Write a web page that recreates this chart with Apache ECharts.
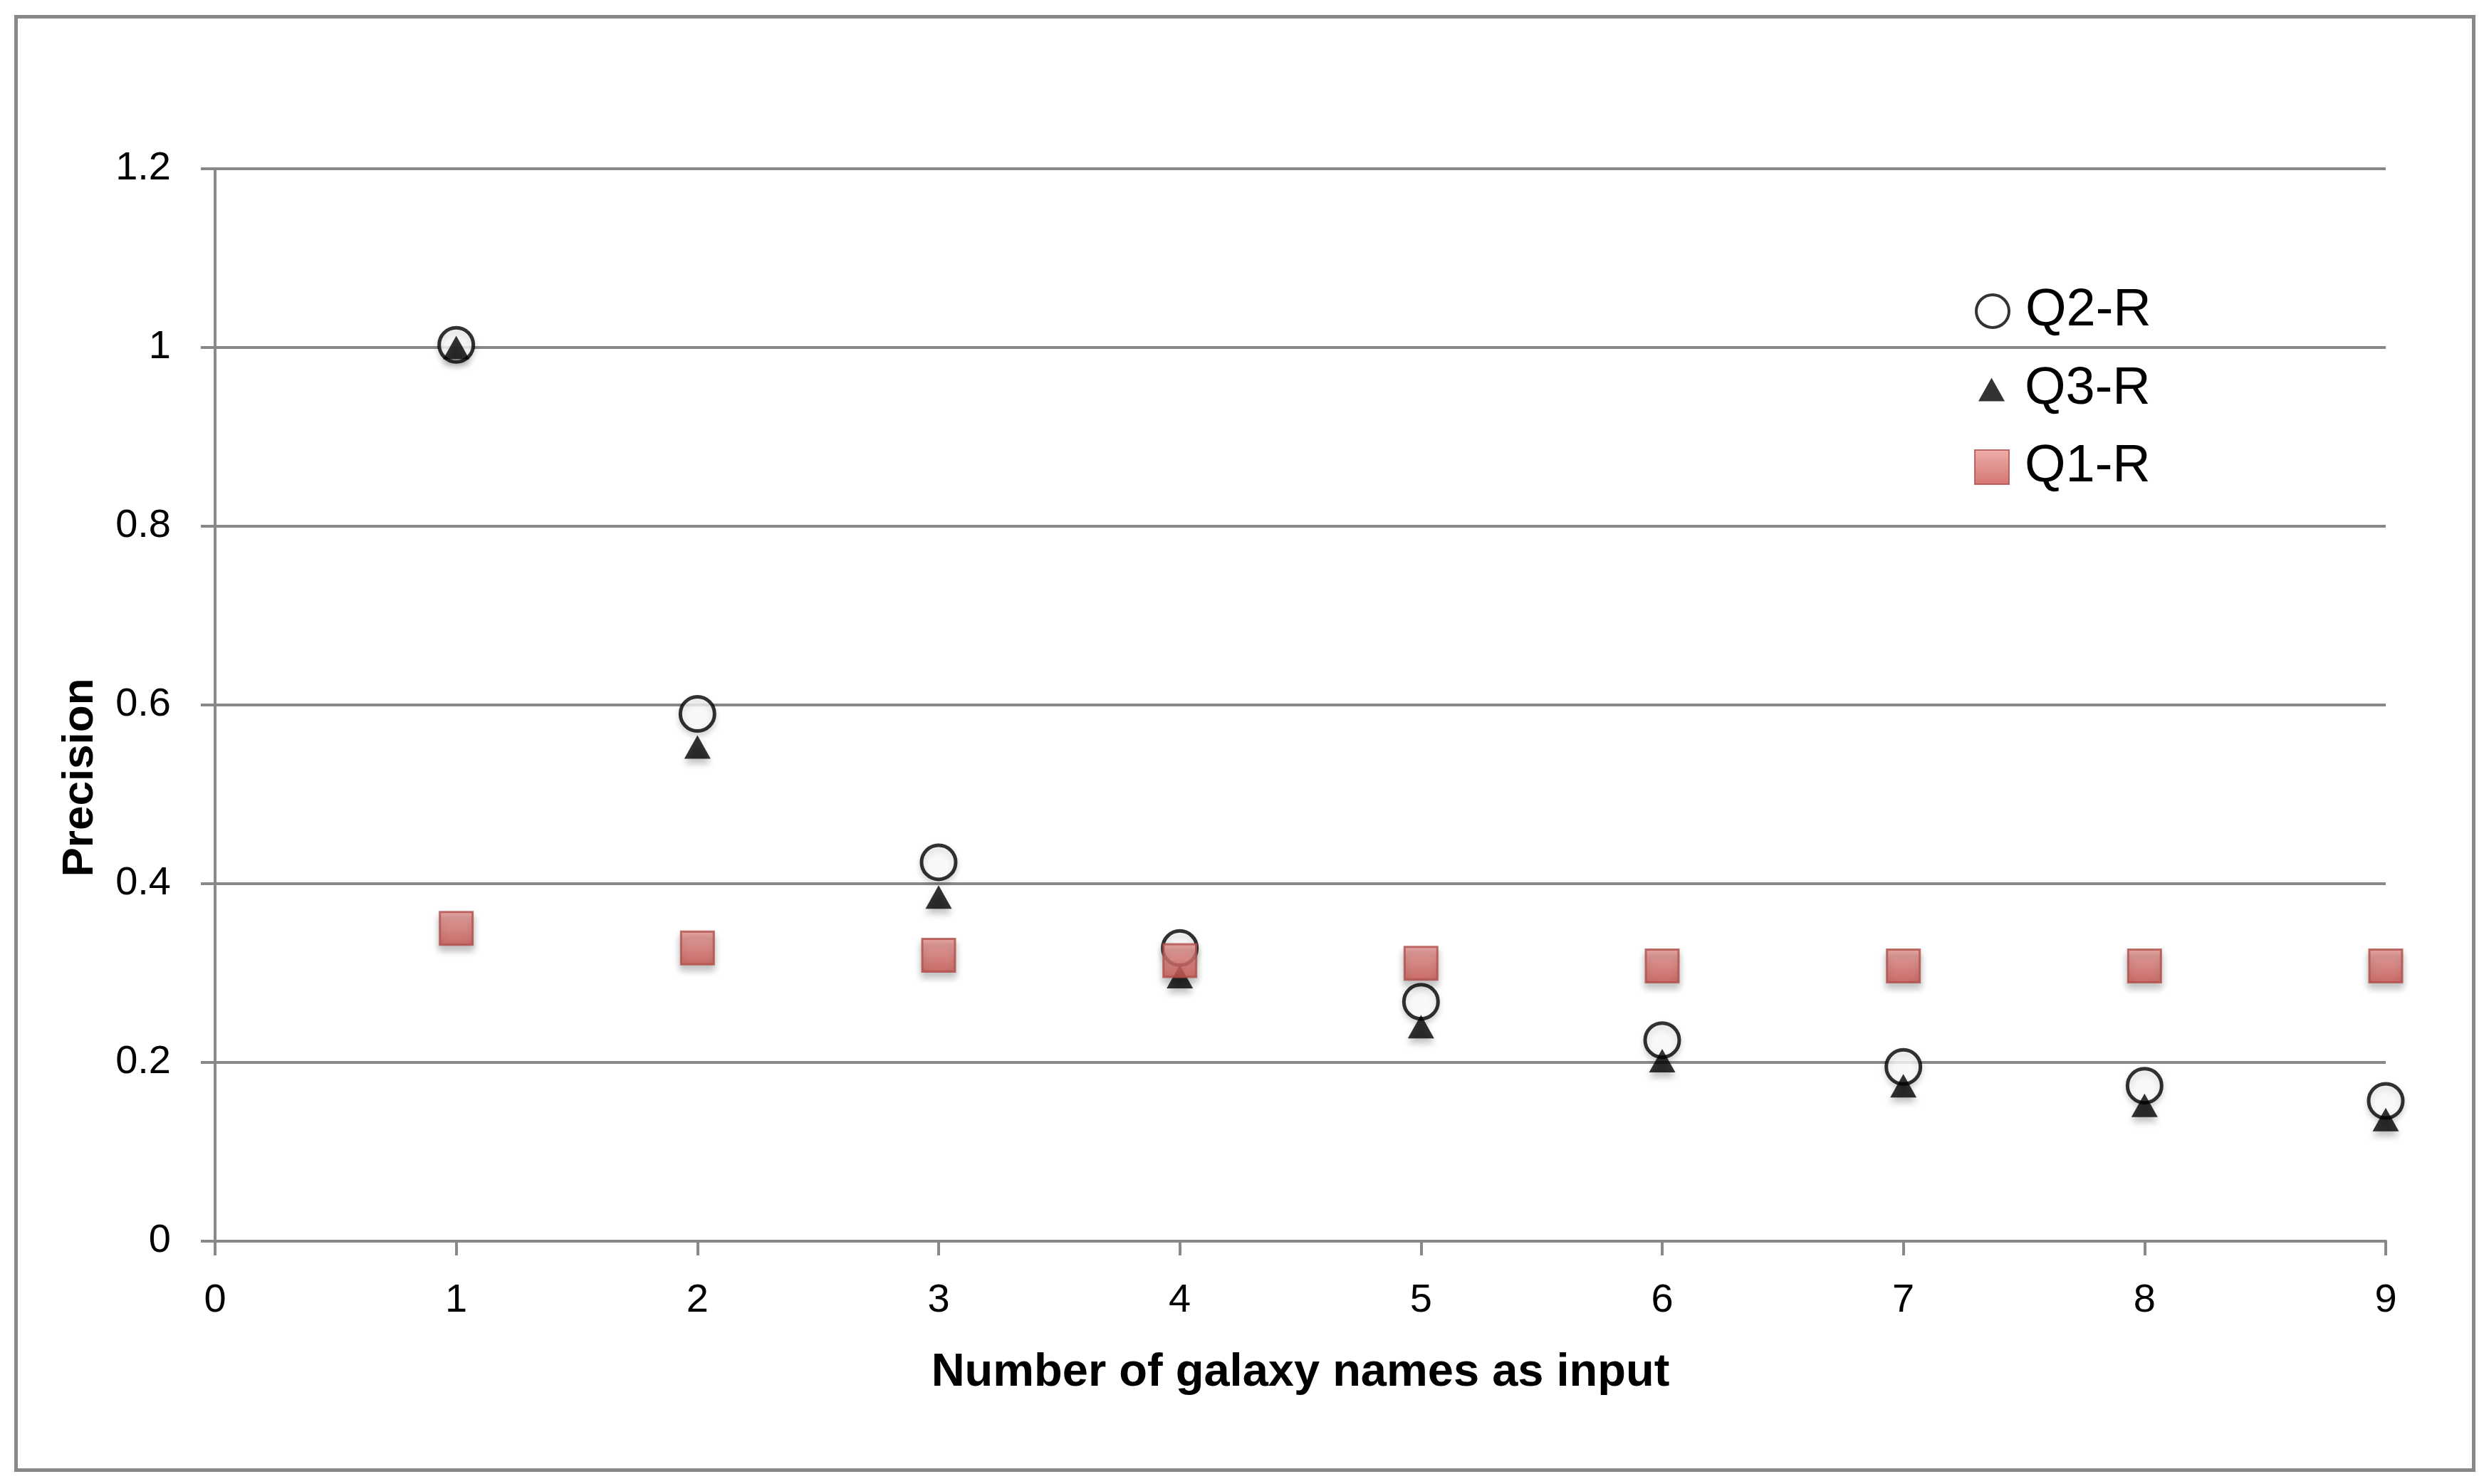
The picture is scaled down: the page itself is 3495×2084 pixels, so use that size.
<!DOCTYPE html>
<html>
<head>
<meta charset="utf-8">
<style>
html,body{margin:0;padding:0;background:#fff;}
#chart{width:3495px;height:2084px;}
</style>
<script src="https://cdn.jsdelivr.net/npm/echarts@6/dist/echarts.min.js"></script>
</head>
<body>
<div id="chart"></div>
<script>
const xValues = [1, 2, 3, 4, 5, 6, 7, 8, 9];
const q2R = [1.003, 0.590, 0.424, 0.328, 0.268, 0.225, 0.195, 0.174, 0.157];
const q3R = [1.000, 0.553, 0.385, 0.296, 0.240, 0.202, 0.174, 0.152, 0.136];
const q1R = [0.350, 0.328, 0.320, 0.314, 0.311, 0.308, 0.308, 0.308, 0.308];
const yTicks = ['0', '0.2', '0.4', '0.6', '0.8', '1', '1.2'];
const xTicks = ['0', '1', '2', '3', '4', '5', '6', '7', '8', '9'];

const pair = (vals) => xValues.map((x, i) => [x, vals[i]]);
const grey = '#898989';
const FONT = 'Liberation Sans';

const chart = echarts.init(document.getElementById('chart'), null, {renderer: 'canvas'});
const shadow = {shadowColor: 'rgba(0,0,0,0.3)', shadowBlur: 10, shadowOffsetY: 7};
const squareFill = new echarts.graphic.LinearGradient(0, 0, 0, 1, [
  {offset: 0, color: '#E99996'}, {offset: 1, color: '#C9544F'}
]);
const legendText = {fontFamily: FONT, fontSize: 74, color: '#000', lineHeight: 74};
const noShadow = {shadowBlur: 0, shadowOffsetY: 0, shadowColor: 'rgba(0,0,0,0)'};

chart.setOption({
  backgroundColor: '#fff',
  animation: false,
  graphic: [{
    type: 'rect', left: 20, top: 21,
    shape: {width: 3451, height: 2041},
    style: {fill: 'none', stroke: grey, lineWidth: 5}
  }],
  grid: {left: 302, right: 145, top: 237, bottom: 341},
  legend: [
    {data: ['Q2-R'], left: 2768, top: 395, itemWidth: 46, itemHeight: 46,
     textStyle: Object.assign({padding: [0, 0, 0, 18]}, legendText),
     itemStyle: Object.assign({borderWidth: 4}, noShadow)},
    {data: ['Q3-R'], left: 2773, top: 505, itemWidth: 37, itemHeight: 33,
     textStyle: Object.assign({padding: [0, 0, 0, 23]}, legendText),
     itemStyle: noShadow},
    {data: ['Q1-R'], left: 2767, top: 614, itemWidth: 48, itemHeight: 48,
     textStyle: Object.assign({padding: [0, 0, 0, 17]}, legendText),
     itemStyle: noShadow}
  ],
  xAxis: {
    type: 'value', min: 0, max: 9, interval: 1,
    name: 'Number of galaxy names as input',
    nameLocation: 'middle', nameGap: 153,
    nameTextStyle: {fontFamily: FONT, fontWeight: 'bold', fontSize: 65, color: '#000'},
    axisLine: {show: true, lineStyle: {color: grey, width: 4}},
    axisTick: {show: true, length: 20, lineStyle: {color: grey, width: 4}},
    axisLabel: {fontFamily: FONT, fontSize: 56, color: '#000', margin: 56,
      formatter: (v) => xTicks[Math.round(v)]},
    splitLine: {show: false}
  },
  yAxis: {
    type: 'value', min: 0, max: 1.2, interval: 0.2,
    name: 'Precision',
    nameLocation: 'middle', nameGap: 158, nameRotate: 90,
    nameTextStyle: {fontFamily: FONT, fontWeight: 'bold', fontSize: 62, color: '#000',
      padding: [0, 204, 0, 0]},
    axisLine: {show: true, lineStyle: {color: grey, width: 4}},
    axisTick: {show: true, length: 20, lineStyle: {color: grey, width: 4}},
    axisLabel: {fontFamily: FONT, fontSize: 56, color: '#000', margin: 62,
      formatter: (v) => yTicks[Math.round(v / 0.2)]},
    splitLine: {show: true, lineStyle: {color: grey, width: 4}}
  },
  series: [
    {name: 'Q2-R', type: 'scatter', data: pair(q2R), symbol: 'circle', symbolSize: 48, z: 2,
     itemStyle: {color: '#fff', borderColor: '#000', borderWidth: 5,
       shadowColor: 'rgba(0,0,0,0.18)', shadowBlur: 8, shadowOffsetY: 5}},
    {name: 'Q3-R', type: 'scatter', data: pair(q3R), symbol: 'triangle', symbolSize: [37, 33], z: 3,
     itemStyle: Object.assign({color: '#000'}, shadow)},
    {name: 'Q1-R', type: 'scatter', data: pair(q1R), symbol: 'rect', symbolSize: 46, z: 4,
     itemStyle: Object.assign({color: squareFill, borderColor: '#B04D49', borderWidth: 3}, shadow)}
  ]
});
</script>
</body>
</html>
